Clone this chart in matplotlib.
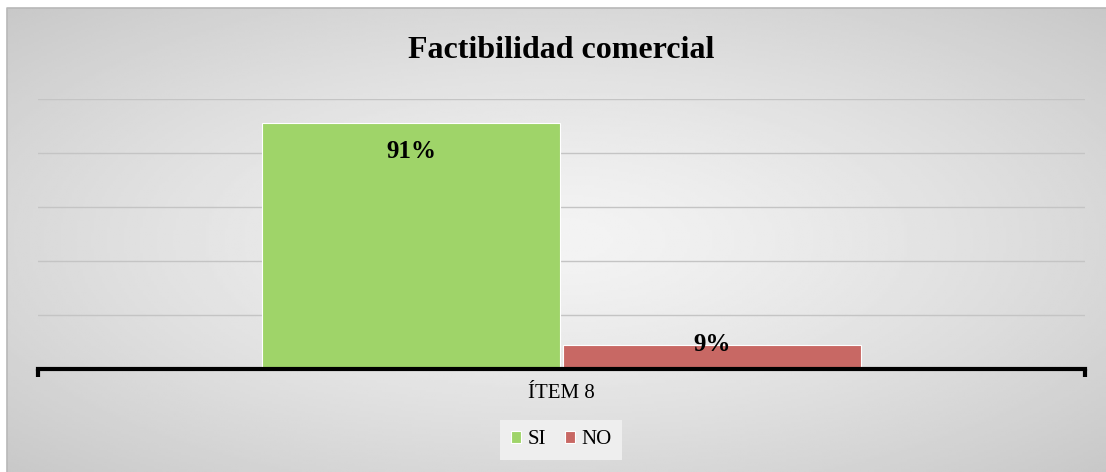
import numpy as np
import matplotlib.pyplot as plt
from matplotlib.patches import Rectangle

plt.rcParams['font.family'] = ['Liberation Serif', 'DejaVu Serif']

categories = ['ÍTEM 8']
series = ['SI', 'NO']
values = [0.91, 0.09]
labels = ['91%', '9%']
colors = ['#9fd469', '#c86864']

W, H = 1106, 472
fig = plt.figure(figsize=(W / 100, H / 100), dpi=100)
fig.patch.set_facecolor('white')

# fondo con degradado radial
bg = fig.add_axes([7 / W, 0, 1 - 7 / W, 1 - 8 / H], zorder=0)
gx, gy = np.meshgrid(np.linspace(-1, 1, 400), np.linspace(-1, 1, 200))
r = np.clip(np.sqrt(gx ** 2 + gy ** 2) / np.sqrt(2), 0, 1)
shade = 0.955 - 0.17 * r ** 1.3
bg.imshow(shade, cmap='gray', vmin=0, vmax=1, aspect='auto', extent=(0, 1, 0, 1))
bg.plot([0, 0, 1], [0, 1, 1], color='#b8b8b8', lw=1.2, transform=bg.transAxes, clip_on=False)
bg.set_axis_off()

ax = fig.add_axes([38 / W, (H - 369) / H, (1085 - 38) / W, 270 / H], zorder=1)
ax.patch.set_alpha(0)
w = 0.285
offsets = [-0.1435, 0.1435]
for i, s in enumerate(series):
    ax.bar(offsets[i], values[i], width=w, color=colors[i], edgecolor='white', linewidth=0.8, label=s, zorder=2)

ax.text(offsets[0], values[0] - 0.106, labels[0], ha='center', va='center', fontsize=18, fontweight='bold', zorder=3)
ax.text(offsets[1], values[1], labels[1], ha='center', va='center', fontsize=18, fontweight='bold', zorder=3)

ax.set_xlim(-0.5, 0.5)
ax.set_ylim(0, 1.0)
ax.set_yticks(np.arange(0.2, 1.01, 0.2))
ax.yaxis.grid(True, color='#c4c4c4', linewidth=1, zorder=0)
ax.tick_params(axis='y', length=0, labelleft=False)
for side in ['top', 'right', 'left']:
    ax.spines[side].set_visible(False)
ax.spines['bottom'].set_linewidth(3)
ax.spines['bottom'].set_color('black')
ax.set_xticks([-0.5, 0.5])
ax.tick_params(axis='x', length=6, width=3, color='black', labelbottom=False, direction='out')
ax.text(0, -0.09, categories[0], ha='center', va='center', fontsize=15)

fig.text(561 / W, 1 - 50 / H, 'Factibilidad comercial', ha='center', va='center', fontsize=23, fontweight='bold')

leg = fig.legend(loc='center', bbox_to_anchor=(561 / W, 1 - 440 / H), ncol=2, frameon=True,
                 fontsize=15, handlelength=0.5, handleheight=0.5, handletextpad=0.3, columnspacing=0.9,
                 borderpad=0.5)
leg.get_frame().set_facecolor('#eeeeee')
leg.get_frame().set_edgecolor('none')
leg.get_frame().set_alpha(1)
leg.get_frame().set_boxstyle('square', pad=0.0)

fig.savefig('out.png', dpi=100, facecolor=fig.get_facecolor())
